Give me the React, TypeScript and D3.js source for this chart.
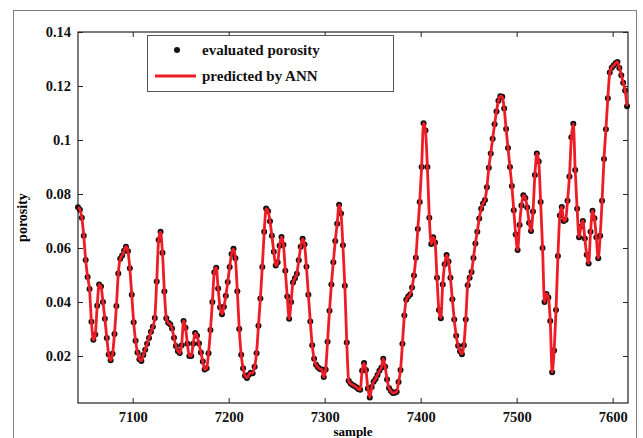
import React, { useRef, useEffect } from 'react';
import * as d3 from 'd3';

// first sample number, samples are read every 2nd sample
const firstSample = 7043;
const sampleStep = 2;

// porosity (7043, 7045, ... 7615)
const porosity = [
  0.0751, 0.0742, 0.0712, 0.0645, 0.0556, 0.0493, 0.0448, 0.0327, 0.0260, 0.0280,
  0.0386, 0.0465, 0.0457, 0.0400, 0.0338, 0.0267, 0.0206, 0.0184, 0.0208, 0.0282,
  0.0385, 0.0506, 0.0560, 0.0572, 0.0590, 0.0605, 0.0588, 0.0525, 0.0427, 0.0325,
  0.0257, 0.0213, 0.0188, 0.0182, 0.0204, 0.0223, 0.0245, 0.0267, 0.0290, 0.0308,
  0.0341, 0.0476, 0.0630, 0.0660, 0.0582, 0.0439, 0.0340, 0.0323, 0.0318, 0.0302,
  0.0268, 0.0237, 0.0219, 0.0211, 0.0240, 0.0330, 0.0305, 0.0245, 0.0200, 0.0200,
  0.0245, 0.0285, 0.0275, 0.0246, 0.0213, 0.0180, 0.0150, 0.0155, 0.0210, 0.0296,
  0.0400, 0.0510, 0.0527, 0.0450, 0.0381, 0.0355, 0.0382, 0.0423, 0.0474, 0.0530,
  0.0578, 0.0597, 0.0562, 0.0440, 0.0300, 0.0205, 0.0155, 0.0127, 0.0119, 0.0131,
  0.0138, 0.0136, 0.0160, 0.0210, 0.0312, 0.0413, 0.0530, 0.0660, 0.0746, 0.0736,
  0.0699, 0.0645, 0.0586, 0.0535, 0.0547, 0.0608, 0.0641, 0.0612, 0.0516, 0.0420,
  0.0338, 0.0400, 0.0472, 0.0488, 0.0505, 0.0555, 0.0605, 0.0634, 0.0613, 0.0531,
  0.0427, 0.0328, 0.0240, 0.0190, 0.0168, 0.0158, 0.0152, 0.0150, 0.0122, 0.0150,
  0.0253, 0.0368, 0.0465, 0.0547, 0.0626, 0.0690, 0.0760, 0.0728, 0.0610, 0.0460,
  0.0250, 0.0108, 0.0098, 0.0093, 0.0089, 0.0084, 0.0078, 0.0075, 0.0145, 0.0174,
  0.0148, 0.0080, 0.0046, 0.0085, 0.0105, 0.0115, 0.0130, 0.0145, 0.0157, 0.0190,
  0.0160, 0.0113, 0.0082, 0.0070, 0.0063, 0.0064, 0.0068, 0.0104, 0.0148, 0.0245,
  0.0350, 0.0408, 0.0420, 0.0428, 0.0454, 0.0498, 0.0564, 0.0670, 0.0770, 0.0900,
  0.1062, 0.1035, 0.0900, 0.0712, 0.0615, 0.0640, 0.0620, 0.0490, 0.0370, 0.0340,
  0.0465, 0.0540, 0.0574, 0.0550, 0.0490, 0.0410, 0.0335, 0.0275, 0.0238, 0.0218,
  0.0207, 0.0240, 0.0335, 0.0462, 0.0490, 0.0511, 0.0563, 0.0617, 0.0660, 0.0709,
  0.0745, 0.0765, 0.0778, 0.0825, 0.0897, 0.0950, 0.1005, 0.1058, 0.1106, 0.1145,
  0.1162, 0.1160, 0.1117, 0.1041, 0.0970, 0.0900, 0.0830, 0.0740, 0.0650, 0.0593,
  0.0685, 0.0757, 0.0795, 0.0785, 0.0750, 0.0694, 0.0663, 0.0735, 0.0870, 0.0950,
  0.0920, 0.0770, 0.0600, 0.0400, 0.0430, 0.0417, 0.0330, 0.0140, 0.0220, 0.0370,
  0.0570, 0.0720, 0.0752, 0.0700, 0.0705, 0.0775, 0.0865, 0.1010, 0.1060, 0.0889,
  0.0745, 0.0640, 0.0680, 0.0700, 0.0635, 0.0575, 0.0543, 0.0660, 0.0738, 0.0710,
  0.0640, 0.0562, 0.0645, 0.0775, 0.0930, 0.1040, 0.1155, 0.1250, 0.1268, 0.1276,
  0.1284, 0.1289, 0.1267, 0.1240, 0.1212, 0.1183, 0.1125
];

const xTicks = [7100, 7200, 7300, 7400, 7500, 7600];
const yTicks = [0.02, 0.04, 0.06, 0.08, 0.1, 0.12, 0.14];
const legendLabels = ['evaluated porosity', 'predicted by ANN'];

function App() {
  const svgRef = useRef(null);

  useEffect(() => {
    const width = 643;
    const height = 438;
    const plot = { left: 78, right: 628, top: 32, bottom: 403 };
    const font = '"Liberation Serif", "Times New Roman", serif';

    const data = porosity.map((v, i) => ({ s: firstSample + i * sampleStep, v }));

    const svg = d3.select(svgRef.current)
      .attr('width', width)
      .attr('height', height);
    svg.selectAll('*').remove();

    const xScale = d3.scaleLinear().domain([7043, 7616]).range([plot.left, plot.right]);
    const yScale = d3.scaleLinear().domain([0.0026, 0.14]).range([plot.bottom, plot.top]);

    // outer figure frame
    svg.append('rect')
      .attr('x', 13.5).attr('y', 10.5)
      .attr('width', 623).attr('height', 440)
      .attr('fill', 'white').attr('stroke', '#808080');

    // axes box
    svg.append('rect')
      .attr('x', plot.left).attr('y', plot.top)
      .attr('width', plot.right - plot.left).attr('height', plot.bottom - plot.top)
      .attr('fill', 'none').attr('stroke', '#222').attr('stroke-width', 1.2);

    const styleAxis = g => {
      g.select('.domain').remove();
      g.selectAll('line').attr('stroke', '#222');
      g.selectAll('text')
        .attr('fill', '#111')
        .style('font-family', font)
        .style('font-weight', 'bold')
        .style('font-size', '14.5px');
    };

    svg.append('g')
      .attr('transform', `translate(0, ${plot.bottom})`)
      .call(d3.axisBottom(xScale).tickValues(xTicks).tickSizeInner(-5).tickSizeOuter(0).tickPadding(9)
        .tickFormat(d3.format('d')))
      .call(styleAxis);
    svg.append('g')
      .attr('transform', `translate(0, ${plot.top})`)
      .call(d3.axisTop(xScale).tickValues(xTicks).tickSizeInner(-5).tickSizeOuter(0).tickFormat(() => ''))
      .call(styleAxis);
    svg.append('g')
      .attr('transform', `translate(${plot.left}, 0)`)
      .call(d3.axisLeft(yScale).tickValues(yTicks).tickSizeInner(-5).tickSizeOuter(0).tickPadding(7)
        .tickFormat(d => String(+(+d).toFixed(2))))
      .call(styleAxis);
    svg.append('g')
      .attr('transform', `translate(${plot.right}, 0)`)
      .call(d3.axisRight(yScale).tickValues(yTicks).tickSizeInner(-5).tickSizeOuter(0).tickFormat(() => ''))
      .call(styleAxis);

    // axis titles
    svg.append('text')
      .attr('x', (plot.left + plot.right) / 2).attr('y', 436)
      .attr('text-anchor', 'middle')
      .style('font-family', font).style('font-weight', 'bold').style('font-size', '13px')
      .text('sample');
    svg.append('text')
      .attr('transform', `translate(27, ${(plot.top + plot.bottom) / 2}) rotate(-90)`)
      .attr('text-anchor', 'middle')
      .style('font-family', font).style('font-weight', 'bold').style('font-size', '14px')
      .text('porosity');

    // evaluated porosity dots
    svg.append('g')
      .selectAll('circle')
      .data(data)
      .join('circle')
      .attr('cx', d => xScale(d.s))
      .attr('cy', d => yScale(d.v))
      .attr('r', 3)
      .attr('fill', '#111');

    // ANN prediction line
    const line = d3.line()
      .x(d => xScale(d.s))
      .y(d => yScale(d.v))
      .curve(d3.curveMonotoneX);
    svg.append('path')
      .datum(data)
      .attr('d', line)
      .attr('fill', 'none')
      .attr('stroke', '#ee1c24')
      .attr('stroke-width', 2.8)
      .attr('stroke-linejoin', 'round');

    // legend
    const legend = svg.append('g');
    legend.append('rect')
      .attr('x', 147.5).attr('y', 35.5).attr('width', 246).attr('height', 56)
      .attr('fill', 'white').attr('stroke', '#555');
    legend.append('circle').attr('cx', 177).attr('cy', 50).attr('r', 3).attr('fill', '#111');
    legend.append('line')
      .attr('x1', 155).attr('x2', 196).attr('y1', 76).attr('y2', 76)
      .attr('stroke', '#ee1c24').attr('stroke-width', 3);
    legend.selectAll('text.lbl')
      .data(legendLabels)
      .join('text')
      .attr('class', 'lbl')
      .attr('x', 202)
      .attr('y', (d, i) => 55 + i * 26)
      .style('font-family', font).style('font-weight', 'bold').style('font-size', '15px')
      .attr('fill', '#111')
      .text(d => d);
  }, []);

  return (
    <svg ref={svgRef} style={{ position: 'absolute', left: 0, top: 0, display: 'block' }}></svg>
  );
}

export default App;
